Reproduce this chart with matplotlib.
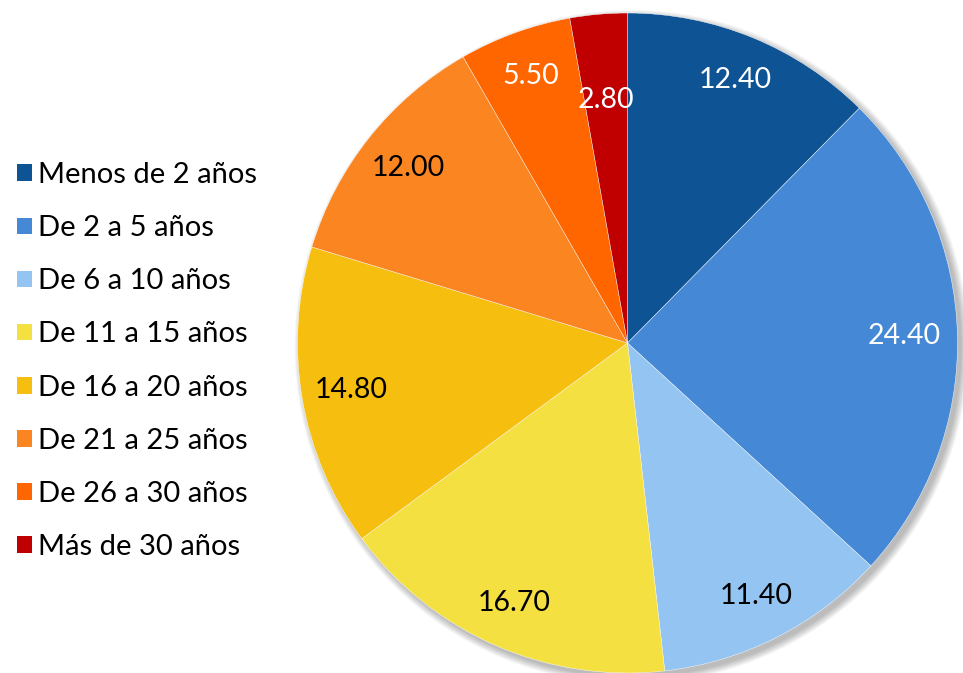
import matplotlib.pyplot as plt
import numpy as np
from matplotlib.patches import Patch, Circle

plt.rcParams['font.family'] = ['Lato', 'DejaVu Sans']

categories = ['Menos de 2 años', 'De 2 a 5 años', 'De 6 a 10 años', 'De 11 a 15 años',
              'De 16 a 20 años', 'De 21 a 25 años', 'De 26 a 30 años', 'Más de 30 años']
values = [12.40, 24.40, 11.40, 16.70, 14.80, 12.00, 5.50, 2.80]
colors = ['#0E5394', '#4488D6', '#93C4F2', '#F4E040', '#F6BE0F', '#FB8520', '#FF6600', '#C00000']
label_colors = ['white', 'white', 'black', 'black', 'black', 'black', 'white', 'white']
label_dist = [0.86, 0.84, 0.86, 0.86, 0.85, 0.85, 0.86, 0.74]

fig = plt.figure(figsize=(9.63, 6.73), dpi=100)
ax = fig.add_axes([0, 0, 1, 1])

cx, cy, r = 627.5, 343, 330

# soft shadow down-right
for k in range(8):
    ax.add_patch(Circle((cx + 4, cy + 4), r + 7 - k, color='black', alpha=0.035, lw=0, zorder=0))

# y axis is inverted afterwards, so counterclock=True ends up clockwise on screen
wedges, _ = ax.pie(values, colors=colors, startangle=-90, counterclock=True,
                   center=(cx, cy), radius=r, frame=True,
                   wedgeprops=dict(edgecolor='white', linewidth=0.3))
ax.set_xlim(0, 963)
ax.set_ylim(673, 0)
ax.set_aspect('equal')
ax.axis('off')

for w, v, c, d in zip(wedges, values, label_colors, label_dist):
    ang = np.deg2rad((w.theta1 + w.theta2) / 2)
    x = cx + d * r * np.cos(ang)
    y = cy + d * r * np.sin(ang)
    ax.text(x, y, f'{v:.2f}', ha='center', va='center', fontsize=20.5, color=c)

handles = [Patch(facecolor=col, edgecolor='none') for col in colors]
fig.legend(handles, categories, loc='center left', bbox_to_anchor=(17 / 963, 1 - 361 / 673),
           frameon=False, fontsize=21, handlelength=0.5, handleheight=0.5,
           handletextpad=0.22, labelspacing=0.93, borderpad=0, borderaxespad=0)

fig.savefig('out.png', dpi=100)
